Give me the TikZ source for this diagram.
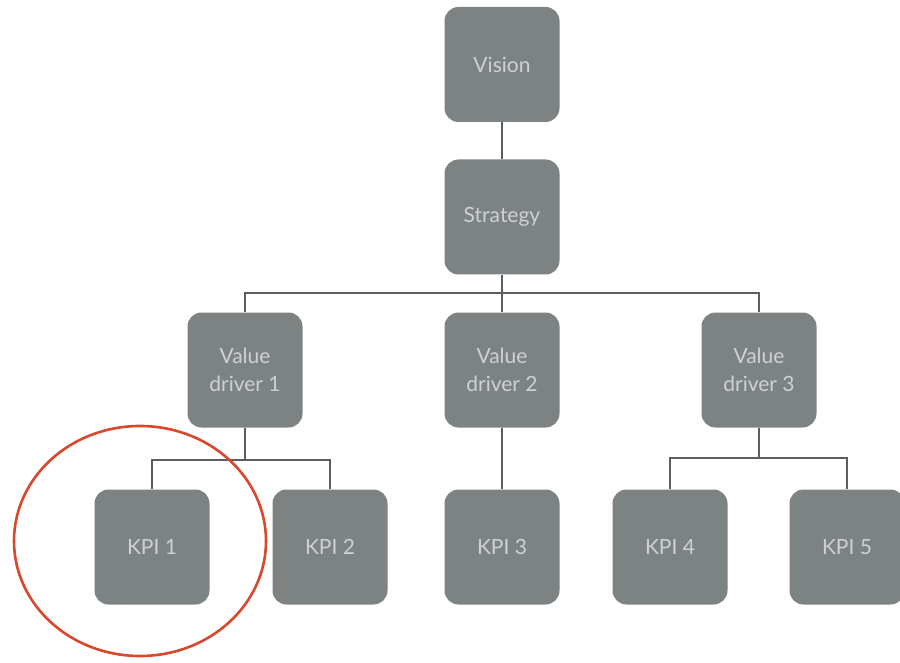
\documentclass[tikz,border=0pt]{standalone}
\usepackage{fontspec}
\setmainfont{Lato}
\definecolor{boxgrey}{HTML}{7D8383}
\definecolor{textgrey}{HTML}{CDD1D1}
\definecolor{linegrey}{HTML}{5A5E5E}
\definecolor{ringred}{HTML}{D9482C}
\tikzset{
  card/.style={fill=boxgrey, rounded corners=14pt, minimum width=115pt,
    minimum height=115pt, inner sep=0pt, text=textgrey, align=center,
    font=\fontsize{21}{28}\selectfont},
  link/.style={draw=linegrey, line width=1.6pt}
}
\begin{document}
\begin{tikzpicture}[x=1pt,y=-1pt]
\useasboundingbox (0,0) rectangle (900,663);
\fill[white] (0,0) rectangle (900,663);

% top of the hierarchy
\node[card] (vision)   at (502,64.5) {Vision};
\node[card] (strategy) at (502,217)  {Strategy};

% value drivers
\node[card] (vd1) at (245,370) {Value\\driver 1};
\node[card] (vd2) at (502,370) {Value\\driver 2};
\node[card] (vd3) at (759,370) {Value\\driver 3};

% KPIs
\node[card] (k1) at (152,547) {KPI 1};
\node[card] (k2) at (330,547) {KPI 2};
\node[card] (k3) at (502,547) {KPI 3};
\node[card] (k4) at (670,547) {KPI 4};
\node[card] (k5) at (847,547) {KPI 5};

% junction points of the connector buses
\coordinate (bus)  at (502,293);
\coordinate (bus1) at (242,460);
\coordinate (bus3) at (759,458);

% connectors
\draw[link] (vision.south) -- (strategy.north);
\draw[link] (strategy.south) -- (bus);
\draw[link] (vd1.north) |- (bus) -| (vd3.north);
\draw[link] (bus) -- (vd2.north);
\draw[link] (vd1.south) -- (vd1.south |- bus1);
\draw[link] (k1.north) |- (bus1) -| (k2.north);
\draw[link] (vd2.south) -- (k3.north);
\draw[link] (vd3.south) -- (bus3);
\draw[link] (k4.north) |- (bus3) -| (k5.north);

% highlight ring round the first KPI
\draw[ringred, line width=2.6pt] (140,541) ellipse [x radius=126, y radius=115];
\end{tikzpicture}
\end{document}
